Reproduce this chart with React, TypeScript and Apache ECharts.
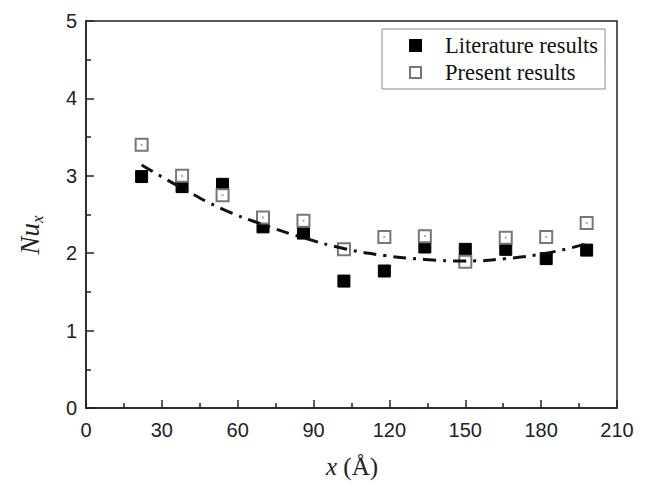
import React, { useEffect, useRef } from "react";
import * as echarts from "echarts";

const xPositions = [22, 38, 54, 70, 86, 102, 118, 134, 150, 166, 182, 198];
const literatureValues = [2.99, 2.86, 2.89, 2.34, 2.26, 1.64, 1.77, 2.08, 2.05, 2.05, 1.93, 2.04];
const presentValues = [3.4, 3.0, 2.75, 2.46, 2.42, 2.05, 2.21, 2.22, 1.89, 2.2, 2.21, 2.39];
const fitValues = [3.14, 2.84, 2.57, 2.37, 2.2, 2.06, 1.97, 1.92, 1.9, 1.93, 2.0, 2.12];
const xTicks = { min: 0, max: 210, interval: 30 };
const yTicks = { min: 0, max: 5, interval: 1 };

const pair = (vals: number[]) => xPositions.map((x, i) => [x, vals[i]]);

export default function App() {
  const ref = useRef<HTMLDivElement>(null);
  useEffect(() => {
    if (!ref.current) return;
    const chart = echarts.init(ref.current, undefined, { renderer: "svg" });
    const axisColor = "#222";
    chart.setOption({
      animation: false,
      backgroundColor: "#fff",
      grid: {
        left: 86,
        right: 32,
        top: 21,
        bottom: 77,
        show: true,
        borderColor: axisColor,
        borderWidth: 1.5,
        backgroundColor: "transparent",
      },
      legend: {
        orient: "vertical",
        left: 382,
        top: 29,
        data: ["Literature results", "Present results"],
        itemWidth: 11,
        itemHeight: 11,
        itemGap: 4,
        padding: [5, 7, 5, 27],
        borderColor: "#888",
        borderWidth: 1,
        textStyle: {
          fontFamily: "Liberation Serif",
          fontSize: 22.5,
          color: "#111",
          padding: [0, 0, 0, 19],
        },
      },
      xAxis: {
        type: "value",
        min: xTicks.min,
        max: xTicks.max,
        interval: xTicks.interval,
        axisLine: { show: true, lineStyle: { color: axisColor, width: 1.5 } },
        axisTick: { show: true, inside: true, length: 8, lineStyle: { color: axisColor, width: 1.5 } },
        minorTick: { show: true, splitNumber: 2, length: 5, lineStyle: { color: axisColor, width: 1.5 } },
        splitLine: { show: false },
        axisLabel: { fontFamily: "Liberation Sans", fontSize: 20, color: "#222", margin: 12 },
      },
      yAxis: {
        type: "value",
        min: yTicks.min,
        max: yTicks.max,
        interval: yTicks.interval,
        axisLine: { show: true, lineStyle: { color: axisColor, width: 1.5 } },
        axisTick: { show: true, inside: true, length: 8, lineStyle: { color: axisColor, width: 1.5 } },
        minorTick: { show: true, splitNumber: 2, length: 5, lineStyle: { color: axisColor, width: 1.5 } },
        splitLine: { show: false },
        axisLabel: { fontFamily: "Liberation Sans", fontSize: 20, color: "#222", margin: 9 },
      },
      graphic: [
        {
          type: "text",
          x: 352,
          y: 466,
          style: {
            text: "{i|x} (Å)",
            align: "center",
            verticalAlign: "middle",
            fill: "#222",
            fontFamily: "Liberation Serif",
            fontSize: 25,
            rich: {
              i: { fontFamily: "Liberation Serif", fontStyle: "italic", fontSize: 25, fill: "#222" },
            },
          },
        },
        {
          type: "text",
          x: 30,
          y: 235,
          rotation: Math.PI / 2,
          style: {
            text: "{i|Nu}{s|x}",
            align: "center",
            verticalAlign: "middle",
            fill: "#222",
            rich: {
              i: {
                fontFamily: "Liberation Serif",
                fontStyle: "italic",
                fontSize: 27,
                lineHeight: 32,
                fill: "#222",
              },
              s: {
                fontFamily: "Liberation Serif",
                fontStyle: "italic",
                fontSize: 17,
                lineHeight: 16,
                verticalAlign: "bottom",
                fill: "#222",
              },
            },
          },
        },
      ],
      series: [
        {
          name: "Literature results",
          type: "scatter",
          symbol: "rect",
          symbolSize: 12,
          data: pair(literatureValues),
          itemStyle: { color: "#000", borderColor: "#000", borderWidth: 1, opacity: 1 },
          z: 3,
        },
        {
          name: "Present results",
          type: "scatter",
          symbol: "rect",
          symbolSize: 12,
          data: pair(presentValues),
          itemStyle: { color: "#fff", borderColor: "#777", borderWidth: 2, opacity: 1 },
          z: 3,
        },
        {
          name: "present-centre",
          type: "scatter",
          symbol: "rect",
          symbolSize: 2,
          data: pair(presentValues),
          itemStyle: { color: "#aaa", opacity: 1 },
          z: 4,
          silent: true,
        },
        {
          name: "fit",
          type: "line",
          smooth: true,
          showSymbol: false,
          symbol: "none",
          data: pair(fitValues),
          lineStyle: { color: "#111", width: 3, type: [13, 7, 3, 7] },
          z: 5,
        },
      ],
    });
    return () => chart.dispose();
  }, []);
  return (
    <div
      ref={ref}
      style={{ position: "absolute", left: 0, top: 0, width: 649, height: 485, background: "#fff" }}
    />
  );
}
